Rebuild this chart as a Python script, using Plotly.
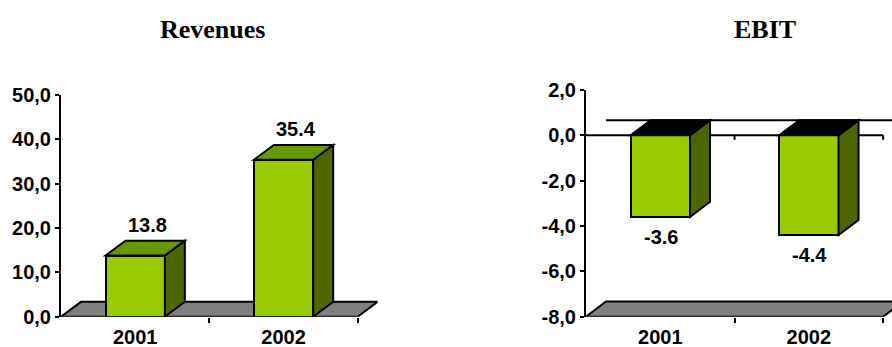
import plotly.graph_objects as go

# ---- data -------------------------------------------------------------
categories = ["2001", "2002"]
revenues = [13.8, 35.4]
ebit = [-3.6, -4.4]

rev_tickvals = [0, 10, 20, 30, 40, 50]
rev_ticktext = ["0,0", "10,0", "20,0", "30,0", "40,0", "50,0"]
ebit_tickvals = [-8, -6, -4, -2, 0, 2]
ebit_ticktext = ["-8,0", "-6,0", "-4,0", "-2,0", "0,0", "2,0"]

# ---- styling ----------------------------------------------------------
W, H = 892, 347
FRONT = "#99CC00"
SIDE = "#4D6600"
TOP = "#669900"
FLOOR = "#808080"
FONT = "Arial, Liberation Sans, sans-serif"
SERIF = "Times New Roman, Liberation Serif, serif"
FS = 20
BAR_W = 0.4          # bar width in category units
DX = 0.135           # horizontal depth of the 3D effect (category units)
DEPTH_FRAC = 0.067   # vertical depth as fraction of value span
LINE = dict(color="black", width=2)

x_idx = list(range(len(categories)))
xmin = -0.5
xmax = len(categories) - 0.5

fig = go.Figure()


def panel(values, xa, ya, yrange, cap_color, label_shift):
    dy = (yrange[1] - yrange[0]) * DEPTH_FRAC
    xref, yref = xa.replace("axis", ""), ya.replace("axis", "")
    base = yrange[0]

    # floor slab
    fig.add_shape(type="path", xref=xref, yref=yref, layer="below",
                  path=f"M {xmin},{base} L {xmax},{base} L {xmax+DX},{base+dy} "
                       f"L {xmin+DX},{base+dy} Z",
                  fillcolor=FLOOR, line=LINE)

    # front faces
    fig.add_trace(go.Bar(x=x_idx, y=values, width=BAR_W, xaxis=xref, yaxis=yref,
                         marker=dict(color=FRONT, line=LINE), showlegend=False,
                         hoverinfo="skip"))

    for i, v in zip(x_idx, values):
        x0, x1 = i - BAR_W / 2, i + BAR_W / 2
        # side face
        fig.add_shape(type="path", xref=xref, yref=yref,
                      path=f"M {x1},0 L {x1},{v} L {x1+DX},{v+dy} L {x1+DX},{dy} Z",
                      fillcolor=SIDE, line=LINE)
        # top cap
        t = max(v, 0)
        fig.add_shape(type="path", xref=xref, yref=yref,
                      path=f"M {x0},{t} L {x1},{t} L {x1+DX},{t+dy} L {x0+DX},{t+dy} Z",
                      fillcolor=cap_color, line=LINE)
        # value label
        fig.add_annotation(x=i, y=v, xref=xref, yref=yref, text=f"{v:.1f}",
                           showarrow=False, xshift=label_shift[0],
                           yshift=label_shift[1] if v >= 0 else -label_shift[2],
                           font=dict(family=FONT, size=FS, color="black", weight="bold"))
    return dy


common_x = dict(range=[xmin, xmax + DX], tickvals=x_idx, ticktext=categories,
                ticks="", showline=False, showgrid=False, zeroline=False,
                automargin=False, ticklabelstandoff=6,
                tickfont=dict(family=FONT, size=FS, color="black", weight="bold"),
                minor=dict(tickvals=[0.5, 1.5], ticks="outside", ticklen=5,
                           tickcolor="black", tickwidth=2))
common_y = dict(showline=True, linecolor="black", linewidth=2, ticks="outside",
                ticklen=4, tickcolor="black", tickwidth=2, showgrid=False,
                zeroline=False, automargin=False,
                tickfont=dict(family=FONT, size=FS, color="black", weight="bold"))

# Revenues panel
panel(revenues, "xaxis", "yaxis", [0, 50], TOP, (12, 31, 0))

# EBIT panel
dy2 = panel(ebit, "xaxis2", "yaxis2", [-8, 2], "black", (1, 0, 20))
fig.add_shape(type="line", xref="x2", yref="y2", layer="below",
              x0=xmin, x1=xmax, y0=0, y1=0, line=LINE)
fig.add_shape(type="line", xref="x2", yref="y2", layer="below",
              x0=xmin + DX, x1=xmax + 1, y0=dy2, y1=dy2, line=LINE)
for tx in [0.5, 1.5]:
    fig.add_shape(type="line", xref="x2", yref="y2", layer="below",
                  x0=tx, x1=tx, y0=0, y1=-0.2, line=LINE)

fig.update_layout(
    width=W, height=H, margin=dict(l=0, r=0, t=0, b=0, autoexpand=False),
    paper_bgcolor="white", plot_bgcolor="rgba(0,0,0,0)",
    bargap=0,
    xaxis=dict(domain=[61 / W, 377.7 / W], anchor="y", **common_x),
    yaxis=dict(domain=[(H - 316.7) / H, (H - 95) / H], anchor="x", range=[0, 50],
               tickvals=rev_tickvals, ticktext=rev_ticktext, **common_y),
    xaxis2=dict(domain=[586 / W, 1.0], anchor="y2", **{**common_x, "range": [xmin, 1.56]}),
    yaxis2=dict(domain=[(H - 316.7) / H, (H - 90) / H], anchor="x2", range=[-8, 2],
                tickvals=ebit_tickvals, ticktext=ebit_ticktext, **common_y),
)

fig.add_annotation(x=212.5 / W, y=(H - 29) / H, xref="paper", yref="paper",
                   xanchor="center", yanchor="middle",
                   text="Revenues", showarrow=False,
                   font=dict(family=SERIF, size=26, color="black", weight="bold"))
fig.add_annotation(x=765 / W, y=(H - 29) / H, xref="paper", yref="paper",
                   xanchor="center", yanchor="middle",
                   text="EBIT", showarrow=False,
                   font=dict(family=SERIF, size=26, color="black", weight="bold"))

fig.write_html("out.html")
